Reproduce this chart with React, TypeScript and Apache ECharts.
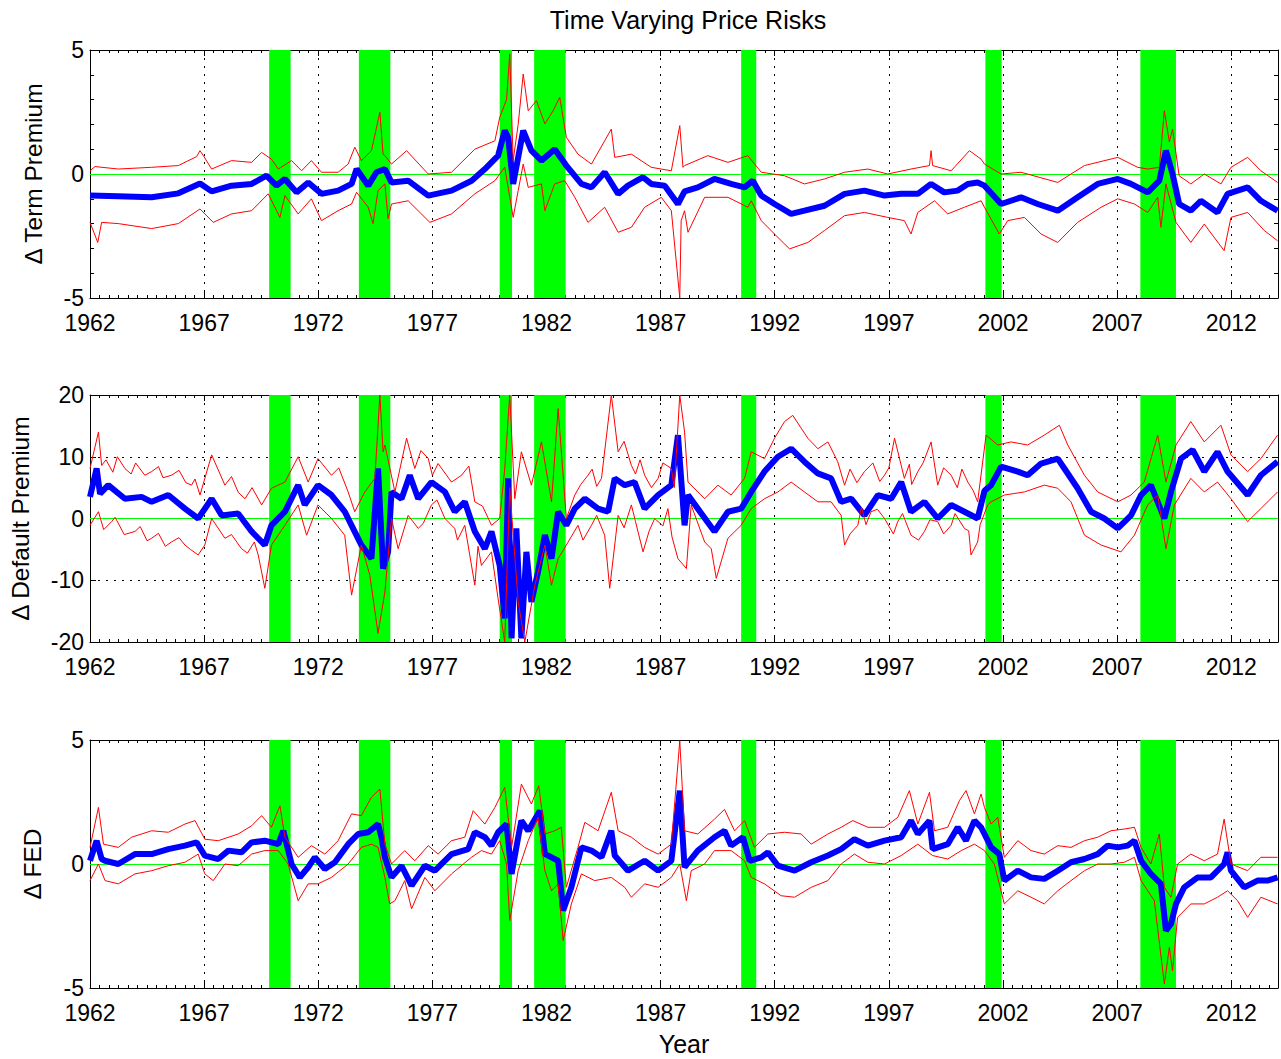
import React, { useEffect, useRef } from 'react';
import * as echarts from 'echarts';

// ---------- data (years, values) ----------
const recessionStart = [1969.85, 1973.78, 1979.95, 1981.46, 1990.53, 2001.23, 2008.02];
const recessionEnd = [1970.79, 1975.16, 1980.49, 1982.84, 1991.19, 2001.94, 2009.58];

const termEst = [[1962.00,-0.87],[1963.24,-0.90],[1964.70,-0.94],[1965.87,-0.78],[1966.82,-0.38],[1967.33,-0.70],[1968.20,-0.47],[1969.08,-0.40],[1969.73,-0.07],[1970.17,-0.47],[1970.54,-0.20],[1971.05,-0.74],[1971.56,-0.34],[1972.14,-0.80],[1972.87,-0.67],[1973.46,-0.40],[1973.68,0.20],[1974.19,-0.47],[1974.55,0.07],[1974.92,0.20],[1975.21,-0.34],[1975.94,-0.27],[1976.82,-0.87],[1977.84,-0.67],[1978.72,-0.27],[1979.30,0.20],[1979.88,0.74],[1980.17,1.75],[1980.32,1.48],[1980.54,-0.40],[1980.98,1.75],[1981.34,0.94],[1981.78,0.54],[1982.36,1.00],[1982.87,0.34],[1983.53,-0.40],[1983.97,-0.54],[1984.55,0.07],[1985.14,-0.80],[1985.57,-0.47],[1986.23,-0.13],[1986.59,-0.40],[1987.18,-0.47],[1987.76,-1.21],[1988.05,-0.70],[1988.63,-0.54],[1989.36,-0.20],[1990.09,-0.40],[1990.68,-0.54],[1991.04,-0.27],[1991.41,-0.87],[1991.99,-1.21],[1992.72,-1.61],[1993.30,-1.48],[1994.18,-1.28],[1995.06,-0.80],[1995.93,-0.67],[1996.81,-0.87],[1997.54,-0.80],[1998.27,-0.80],[1998.85,-0.40],[1999.43,-0.74],[2000.02,-0.67],[2000.46,-0.40],[2000.89,-0.34],[2001.19,-0.47],[2001.92,-1.21],[2002.79,-0.94],[2003.52,-1.21],[2004.40,-1.48],[2005.27,-0.94],[2006.15,-0.40],[2007.03,-0.20],[2007.61,-0.40],[2008.34,-0.74],[2008.85,-0.27],[2009.14,0.94],[2009.43,0.00],[2009.72,-1.21],[2010.23,-1.48],[2010.67,-1.08],[2011.40,-1.55],[2011.84,-0.80],[2012.72,-0.54],[2013.30,-1.08],[2014.03,-1.48]];

const termHi = [[1962.00,0.13],[1962.22,0.30],[1963.24,0.20],[1964.70,0.27],[1965.87,0.34],[1966.67,0.70],[1966.82,0.94],[1966.96,0.75],[1967.33,0.20],[1968.20,0.54],[1969.08,0.47],[1969.52,0.87],[1969.95,0.60],[1970.25,0.20],[1970.83,0.54],[1971.27,0.13],[1971.70,0.54],[1972.14,0.07],[1972.87,0.07],[1973.31,0.40],[1973.60,1.08],[1973.89,0.54],[1974.33,0.94],[1974.70,2.49],[1974.84,0.80],[1974.92,0.74],[1975.21,0.40],[1975.87,0.94],[1976.82,0.00],[1977.84,0.07],[1978.86,1.00],[1979.74,1.34],[1979.95,2.28],[1980.25,3.00],[1980.39,4.84],[1980.54,0.54],[1980.76,2.00],[1980.98,4.03],[1981.20,2.55],[1981.56,2.96],[1981.93,2.02],[1982.29,2.55],[1982.58,3.09],[1982.87,1.48],[1983.38,0.80],[1983.97,0.40],[1984.55,1.34],[1984.84,1.81],[1984.99,0.67],[1985.72,0.80],[1986.59,0.27],[1987.47,0.13],[1987.84,1.95],[1987.98,0.27],[1988.05,0.34],[1989.07,0.74],[1989.95,0.47],[1990.82,0.74],[1991.41,0.07],[1992.43,-0.07],[1993.30,-0.40],[1994.18,-0.20],[1995.06,0.07],[1996.08,0.20],[1996.95,0.00],[1997.97,0.20],[1998.78,0.34],[1998.85,0.94],[1998.92,0.34],[1999.73,0.13],[2000.53,0.94],[2001.04,0.60],[2001.19,0.40],[2001.92,0.00],[2002.79,0.07],[2004.40,-0.34],[2005.57,0.34],[2007.03,0.67],[2007.90,0.27],[2008.34,0.20],[2008.85,0.27],[2009.07,2.55],[2009.29,1.30],[2009.43,1.81],[2009.72,-0.07],[2010.23,-0.40],[2010.82,0.00],[2011.55,-0.40],[2011.99,0.27],[2012.72,0.67],[2013.30,0.13],[2014.03,-0.34]];

const termLo = [[1962.00,-1.95],[1962.34,-2.76],[1962.51,-1.95],[1963.24,-2.00],[1964.70,-2.20],[1965.87,-2.00],[1966.82,-1.41],[1967.40,-1.95],[1968.20,-1.61],[1969.08,-1.48],[1969.81,-0.80],[1970.32,-1.75],[1970.54,-0.87],[1971.12,-1.61],[1971.70,-1.00],[1972.14,-1.88],[1972.87,-1.48],[1973.46,-1.21],[1973.68,-0.74],[1974.19,-1.34],[1974.40,-2.00],[1974.62,-0.67],[1974.92,-0.40],[1975.06,-1.80],[1975.21,-1.21],[1975.94,-1.08],[1976.89,-1.95],[1977.84,-1.61],[1978.86,-0.80],[1979.74,-0.27],[1980.17,0.27],[1980.54,-1.75],[1980.76,-0.67],[1980.98,0.40],[1981.20,-0.54],[1981.78,-0.40],[1981.93,-1.48],[1982.36,-0.40],[1982.80,-0.27],[1983.24,-0.94],[1983.82,-1.95],[1984.55,-1.34],[1985.14,-2.35],[1985.72,-2.15],[1986.30,-1.34],[1987.03,-0.94],[1987.47,-1.48],[1987.84,-5.00],[1987.90,-1.88],[1988.05,-1.48],[1988.20,-2.35],[1988.93,-0.94],[1989.95,-0.94],[1990.82,-1.34],[1990.97,-1.08],[1991.41,-1.88],[1991.99,-2.42],[1992.65,-3.02],[1993.45,-2.76],[1994.18,-2.28],[1995.06,-1.68],[1995.93,-1.55],[1996.95,-1.75],[1997.68,-1.88],[1997.97,-2.42],[1998.27,-1.55],[1999.00,-1.08],[1999.58,-1.61],[2000.31,-1.34],[2001.04,-1.08],[2001.19,-1.34],[2001.84,-2.42],[2002.21,-1.88],[2002.94,-1.75],[2003.67,-2.42],[2004.40,-2.76],[2005.27,-1.95],[2006.30,-1.34],[2007.03,-1.00],[2007.76,-1.21],[2008.34,-1.55],[2008.78,-0.94],[2008.92,-2.15],[2009.14,-0.40],[2009.58,-1.95],[2010.23,-2.76],[2010.82,-2.02],[2011.69,-3.09],[2011.99,-1.75],[2012.72,-1.55],[2013.45,-2.28],[2014.03,-2.69]];

const defEst = [[1962.00,3.5],[1962.29,8.1],[1962.44,4.0],[1962.80,5.4],[1963.53,3.2],[1964.26,3.5],[1964.70,2.7],[1965.43,3.8],[1966.16,1.6],[1966.74,0.0],[1967.33,3.2],[1967.77,0.5],[1968.49,0.8],[1969.08,-2.1],[1969.66,-4.3],[1969.95,-1.1],[1970.54,1.1],[1971.12,5.4],[1971.41,2.2],[1971.99,5.4],[1972.58,3.8],[1973.16,1.1],[1973.46,-1.1],[1973.89,-4.3],[1974.33,-6.5],[1974.62,8.1],[1974.84,-8.1],[1975.06,-5.4],[1975.21,4.3],[1975.65,3.2],[1976.01,7.0],[1976.38,3.2],[1976.96,5.9],[1977.55,4.3],[1977.98,1.1],[1978.42,2.7],[1978.86,-2.1],[1979.30,-4.9],[1979.59,-2.1],[1979.95,-7.6],[1980.17,-16.2],[1980.32,6.5],[1980.47,-19.4],[1980.68,-1.6],[1980.90,-19.4],[1981.12,-5.4],[1981.34,-13.5],[1981.63,-8.6],[1981.93,-2.7],[1982.22,-6.5],[1982.51,1.1],[1982.87,-1.1],[1983.24,1.6],[1983.68,3.2],[1984.26,1.6],[1984.70,1.1],[1984.99,6.5],[1985.43,5.4],[1985.86,5.9],[1986.30,1.6],[1986.89,3.8],[1987.47,5.4],[1987.76,13.5],[1988.05,-1.1],[1988.20,3.8],[1988.63,1.6],[1989.36,-2.1],[1989.95,1.1],[1990.53,1.6],[1990.97,4.3],[1991.55,7.6],[1992.14,10.0],[1992.72,11.3],[1993.30,9.2],[1993.89,7.3],[1994.47,6.5],[1994.91,2.7],[1995.35,3.2],[1995.93,0.5],[1996.52,3.8],[1997.10,3.2],[1997.54,5.9],[1997.97,1.1],[1998.56,2.7],[1999.14,0.0],[1999.73,2.2],[2000.31,1.1],[2000.89,0.0],[2001.19,4.5],[2001.48,5.4],[2001.92,8.4],[2002.65,7.6],[2003.08,7.0],[2003.67,8.9],[2004.40,9.7],[2004.69,8.1],[2005.27,4.9],[2005.86,1.1],[2006.44,0.0],[2007.03,-1.6],[2007.61,0.5],[2008.05,3.8],[2008.48,5.4],[2009.07,0.0],[2009.36,4.3],[2009.80,9.7],[2010.31,11.1],[2010.82,7.6],[2011.40,10.8],[2011.84,7.6],[2012.72,3.8],[2013.30,7.0],[2014.03,9.2]];

const defHi = [[1962.00,8.1],[1962.37,14.0],[1962.51,8.6],[1962.70,9.5],[1963.00,7.5],[1963.20,10.0],[1963.53,8.1],[1963.80,7.2],[1964.00,9.0],[1964.40,7.0],[1964.70,7.6],[1965.00,8.4],[1965.20,6.6],[1965.57,7.0],[1965.90,7.8],[1966.20,5.8],[1966.45,5.4],[1966.60,6.4],[1966.82,3.8],[1967.33,10.3],[1967.91,5.4],[1968.20,6.8],[1968.50,4.2],[1968.79,3.2],[1969.10,5.0],[1969.52,2.2],[1969.95,4.9],[1970.54,5.9],[1971.12,10.0],[1971.56,5.9],[1971.99,9.7],[1972.58,7.0],[1972.90,8.2],[1973.31,4.3],[1973.60,1.1],[1974.04,4.3],[1974.48,6.5],[1974.70,20.0],[1974.84,10.8],[1974.92,11.9],[1975.36,4.3],[1975.87,13.0],[1976.23,8.1],[1976.50,11.0],[1976.82,9.7],[1977.00,7.0],[1977.25,8.9],[1977.84,5.9],[1978.28,7.0],[1978.60,8.5],[1978.86,2.7],[1979.20,2.0],[1979.59,-1.1],[1979.95,0.0],[1980.17,8.0],[1980.39,20.0],[1980.61,3.2],[1980.90,10.8],[1981.34,5.4],[1981.78,12.4],[1982.22,2.7],[1982.51,17.8],[1982.87,0.0],[1983.24,3.8],[1983.50,5.5],[1983.82,7.0],[1984.00,8.0],[1984.20,5.2],[1984.41,6.5],[1984.84,20.0],[1985.14,10.8],[1985.40,12.5],[1985.72,8.6],[1985.90,7.2],[1986.10,9.5],[1986.30,7.0],[1986.60,5.0],[1986.89,6.5],[1987.10,9.0],[1987.47,8.1],[1987.60,5.0],[1987.84,20.0],[1988.05,14.0],[1988.20,5.9],[1988.93,3.2],[1989.51,5.4],[1990.09,3.8],[1990.68,6.5],[1990.97,10.8],[1991.55,9.7],[1991.99,13.0],[1992.43,15.7],[1992.79,16.7],[1993.45,13.0],[1993.89,11.3],[1994.33,12.4],[1994.76,9.2],[1995.06,5.4],[1995.30,8.0],[1995.60,5.8],[1995.93,7.6],[1996.30,9.0],[1996.60,6.0],[1996.81,7.0],[1997.00,8.2],[1997.25,13.0],[1997.68,6.5],[1997.90,8.8],[1998.00,5.5],[1998.27,7.6],[1998.50,9.0],[1998.85,12.4],[1999.14,5.4],[1999.40,8.2],[1999.73,7.0],[2000.00,5.0],[2000.20,8.0],[2000.46,5.9],[2000.70,4.5],[2000.89,2.7],[2001.26,13.5],[2001.77,11.9],[2002.35,12.4],[2003.08,11.9],[2003.81,13.5],[2004.47,15.1],[2004.84,11.9],[2005.57,7.0],[2006.15,4.3],[2007.03,2.7],[2007.61,3.8],[2008.19,5.9],[2008.78,13.5],[2009.14,5.9],[2009.58,11.9],[2010.23,15.7],[2010.82,12.4],[2011.55,15.1],[2011.99,10.3],[2012.72,7.6],[2013.30,9.7],[2014.03,13.5]];

const defLo = [[1962.00,-1.1],[1962.37,1.1],[1962.60,-1.8],[1962.95,-0.5],[1963.10,0.2],[1963.50,-2.6],[1963.97,-2.1],[1964.20,-1.3],[1964.50,-3.6],[1964.70,-3.2],[1965.00,-2.4],[1965.30,-4.5],[1965.57,-3.8],[1965.90,-3.1],[1966.16,-4.3],[1966.40,-5.0],[1966.74,-5.9],[1967.03,-4.3],[1967.33,0.0],[1967.91,-3.2],[1968.20,-2.6],[1968.64,-4.9],[1968.90,-5.6],[1969.20,-3.8],[1969.37,-5.9],[1969.66,-11.3],[1969.95,-4.3],[1970.54,-1.1],[1971.12,2.2],[1971.49,-2.7],[1971.99,2.2],[1972.58,0.0],[1973.16,-2.7],[1973.46,-12.4],[1973.89,-4.3],[1974.26,-9.2],[1974.62,-18.6],[1974.92,-11.9],[1975.21,0.0],[1975.50,-4.9],[1975.94,0.5],[1976.38,-1.6],[1976.60,-0.8],[1976.96,2.2],[1977.20,3.0],[1977.55,0.0],[1977.98,-1.6],[1978.10,-3.5],[1978.42,-1.1],[1978.86,-10.8],[1979.00,-4.5],[1979.15,-7.6],[1979.59,-5.4],[1979.88,-13.0],[1980.17,-20.0],[1980.39,5.0],[1980.76,-13.5],[1981.05,-20.0],[1981.49,-10.8],[1981.93,-4.3],[1982.22,-10.8],[1982.51,-6.5],[1982.87,-4.3],[1983.38,-1.1],[1983.60,-3.5],[1983.97,-1.1],[1984.20,0.5],[1984.55,-2.7],[1984.77,-11.3],[1985.14,0.5],[1985.40,-1.5],[1985.72,2.2],[1985.90,-0.5],[1986.23,-5.4],[1986.50,-2.0],[1986.74,0.0],[1987.10,-1.2],[1987.32,1.6],[1987.50,-3.0],[1987.76,-6.5],[1988.13,-8.1],[1988.34,2.2],[1988.93,-3.8],[1989.22,-4.9],[1989.44,-9.7],[1989.95,-3.2],[1990.53,-1.1],[1990.97,1.6],[1991.55,3.2],[1992.14,4.3],[1992.72,5.9],[1993.30,4.3],[1993.89,2.7],[1994.47,2.7],[1994.91,0.5],[1995.06,-4.3],[1995.30,-2.5],[1995.64,-1.1],[1995.80,1.8],[1996.00,-1.0],[1996.22,1.1],[1996.50,1.5],[1996.81,0.0],[1997.20,-2.5],[1997.39,-0.5],[1997.60,0.8],[1997.97,-2.7],[1998.30,-3.5],[1998.56,-2.1],[1998.80,-0.2],[1999.14,-0.5],[1999.40,-2.5],[1999.73,-1.1],[1999.90,0.8],[2000.31,-1.6],[2000.50,-2.0],[2000.60,-5.9],[2000.89,-3.8],[2001.00,-1.0],[2001.33,2.2],[2001.48,2.7],[2002.06,3.8],[2002.94,4.3],[2003.81,5.4],[2004.40,4.9],[2004.98,2.7],[2005.57,-2.7],[2006.30,-4.3],[2007.17,-5.4],[2007.76,-2.7],[2008.34,2.2],[2008.78,3.8],[2009.14,-4.9],[2009.51,2.2],[2010.23,6.5],[2010.82,4.3],[2011.40,5.9],[2011.99,3.2],[2012.72,-0.5],[2013.30,1.6],[2014.03,4.3]];

const fedEst = [[1962.00,0.13],[1962.29,0.94],[1962.51,0.20],[1962.66,0.13],[1963.24,0.00],[1963.97,0.40],[1964.70,0.40],[1965.43,0.60],[1966.16,0.74],[1966.67,0.87],[1967.03,0.34],[1967.62,0.20],[1968.06,0.54],[1968.64,0.47],[1969.08,0.87],[1969.66,0.94],[1970.25,0.80],[1970.47,1.34],[1970.83,0.00],[1971.19,-0.54],[1971.56,-0.13],[1971.85,0.27],[1972.29,-0.20],[1972.73,0.07],[1973.31,0.80],[1973.75,1.21],[1974.19,1.28],[1974.62,1.61],[1974.77,1.08],[1974.92,0.27],[1975.21,-0.54],[1975.65,-0.07],[1976.09,-0.87],[1976.67,-0.07],[1977.11,-0.27],[1977.84,0.40],[1978.57,0.60],[1978.86,1.28],[1979.30,1.08],[1979.59,0.74],[1979.88,1.28],[1980.25,1.61],[1980.47,-0.40],[1980.76,1.08],[1980.90,1.75],[1981.20,1.34],[1981.71,2.15],[1981.93,0.40],[1982.22,0.27],[1982.51,0.13],[1982.73,-1.88],[1983.09,-0.94],[1983.53,0.67],[1983.97,0.54],[1984.41,0.27],[1984.84,1.34],[1984.99,0.34],[1985.57,-0.27],[1986.30,0.13],[1986.89,-0.27],[1987.47,0.13],[1987.84,2.96],[1988.05,-0.13],[1988.63,0.54],[1989.36,1.08],[1989.80,1.34],[1990.09,0.74],[1990.61,1.08],[1990.90,0.13],[1991.41,0.27],[1991.70,0.47],[1992.14,-0.07],[1992.87,-0.27],[1993.60,0.07],[1994.33,0.34],[1994.91,0.60],[1995.49,1.00],[1996.08,0.74],[1996.81,0.94],[1997.54,1.08],[1997.97,1.75],[1998.27,1.21],[1998.78,1.75],[1998.92,0.60],[1999.58,0.80],[2000.02,1.48],[2000.38,0.94],[2000.75,1.75],[2001.04,1.48],[2001.19,1.21],[2001.48,0.67],[2001.84,0.40],[2002.06,-0.67],[2002.65,-0.27],[2003.23,-0.54],[2003.81,-0.60],[2004.40,-0.27],[2004.98,0.07],[2005.57,0.20],[2006.15,0.40],[2006.59,0.74],[2007.03,0.67],[2007.46,0.74],[2007.76,0.94],[2008.05,0.13],[2008.48,-0.40],[2008.92,-0.80],[2009.14,-2.69],[2009.36,-2.42],[2009.58,-1.61],[2009.94,-0.94],[2010.53,-0.54],[2011.11,-0.54],[2011.69,0.00],[2011.84,0.47],[2011.99,-0.27],[2012.57,-0.94],[2013.15,-0.67],[2013.59,-0.67],[2014.03,-0.54]];

const fedHi = [[1962.00,0.67],[1962.37,2.28],[1962.59,0.80],[1963.24,0.67],[1963.82,1.08],[1964.70,1.34],[1965.43,1.28],[1966.16,1.61],[1966.60,1.75],[1967.03,1.00],[1967.62,0.94],[1968.49,1.21],[1969.08,1.54],[1969.52,1.95],[1969.95,1.48],[1970.32,2.35],[1970.54,1.08],[1971.12,0.27],[1971.70,0.74],[1972.29,0.40],[1972.87,0.94],[1973.46,2.02],[1973.89,1.95],[1974.33,2.69],[1974.70,3.02],[1974.92,0.80],[1975.21,0.00],[1975.79,0.54],[1976.23,0.13],[1976.82,0.74],[1977.25,0.40],[1977.84,0.94],[1978.42,1.08],[1978.79,2.15],[1979.30,1.61],[1979.74,2.28],[1980.17,3.09],[1980.47,0.67],[1980.90,3.22],[1981.34,2.42],[1981.66,3.16],[1981.93,1.21],[1982.36,1.34],[1982.65,1.48],[1982.87,-0.94],[1983.38,0.67],[1983.68,1.68],[1984.26,1.34],[1984.84,2.89],[1985.14,1.34],[1985.72,1.08],[1986.30,0.67],[1986.89,0.40],[1987.47,0.80],[1987.84,4.97],[1988.05,1.34],[1988.63,1.21],[1989.36,1.81],[1989.80,2.20],[1990.24,1.34],[1990.68,1.75],[1991.11,0.67],[1991.70,1.21],[1992.43,1.28],[1993.16,1.21],[1993.60,0.80],[1994.33,1.21],[1994.91,1.48],[1995.42,1.75],[1996.08,1.48],[1996.81,1.48],[1997.39,1.88],[1997.90,2.96],[1998.27,1.61],[1998.78,2.89],[1999.00,1.34],[1999.58,1.48],[2000.09,2.55],[2000.38,2.96],[2000.75,2.02],[2001.04,2.82],[2001.19,2.28],[2001.48,1.61],[2001.77,1.88],[2002.06,0.27],[2002.65,0.94],[2003.23,0.54],[2003.81,0.40],[2004.40,0.74],[2004.98,0.67],[2005.57,0.94],[2006.15,1.08],[2006.73,1.34],[2007.32,1.41],[2007.76,1.48],[2008.05,0.67],[2008.48,0.00],[2008.85,1.21],[2009.07,-0.94],[2009.36,-1.34],[2009.65,0.00],[2010.23,0.40],[2010.82,0.13],[2011.40,0.40],[2011.69,1.81],[2011.99,0.00],[2012.72,-0.27],[2013.30,0.27],[2014.03,0.27]];

const fedLo = [[1962.00,-0.67],[1962.37,0.00],[1962.66,-0.67],[1963.24,-0.80],[1963.97,-0.40],[1964.70,-0.27],[1965.43,-0.07],[1966.16,0.07],[1966.74,0.40],[1967.03,-0.40],[1967.40,-0.67],[1967.91,0.00],[1968.49,-0.07],[1969.08,0.40],[1969.66,0.54],[1970.25,0.54],[1970.68,0.00],[1971.12,-1.48],[1971.56,-0.80],[1971.99,-0.80],[1972.58,-0.54],[1973.31,0.00],[1973.89,0.67],[1974.33,0.80],[1974.62,0.67],[1974.92,-0.54],[1975.13,-1.61],[1975.36,-1.48],[1975.79,-0.67],[1976.09,-1.81],[1976.67,-0.54],[1977.11,-1.08],[1977.84,-0.40],[1978.71,0.27],[1979.15,0.54],[1979.59,0.40],[1979.95,0.94],[1980.25,0.00],[1980.39,-2.28],[1980.76,-0.27],[1981.20,0.94],[1981.63,1.88],[1981.93,-0.27],[1982.22,-1.08],[1982.51,-0.80],[1982.73,-3.09],[1983.09,-1.61],[1983.53,-0.40],[1984.11,-0.67],[1984.84,-0.54],[1985.43,-0.94],[1985.72,-1.34],[1986.30,-0.80],[1986.89,-0.94],[1987.47,-0.54],[1987.84,0.00],[1988.13,-1.48],[1988.34,-0.27],[1988.93,0.00],[1989.36,0.54],[1990.09,0.54],[1990.68,0.13],[1990.97,-0.54],[1991.55,-0.80],[1992.28,-1.28],[1992.87,-1.34],[1993.60,-0.94],[1994.33,-0.67],[1994.91,0.00],[1995.49,0.40],[1996.08,0.07],[1996.81,0.00],[1997.54,0.34],[1998.27,0.80],[1998.92,0.34],[1999.58,0.20],[2000.17,0.54],[2000.75,0.80],[2001.19,0.54],[2001.62,0.00],[2002.06,-1.61],[2002.65,-1.08],[2003.23,-1.34],[2003.81,-1.61],[2004.40,-1.08],[2004.98,-0.67],[2005.57,-0.27],[2006.15,0.00],[2006.73,0.00],[2007.32,0.07],[2007.76,0.27],[2008.05,-0.67],[2008.63,-1.48],[2009.07,-4.84],[2009.29,-3.36],[2009.43,-4.30],[2009.65,-2.15],[2010.23,-1.61],[2010.82,-1.61],[2011.40,-1.34],[2011.84,-1.08],[2012.28,-1.48],[2012.72,-2.15],[2013.30,-1.34],[2014.03,-1.61]];

const yearMin = 1962;
const yearMax = 2014.05;
const yearStep = 5;
const panelNames = ['Δ Term Premium', 'Δ Default Premium', 'Δ FED'];
const yMins = [-5, -20, -5];
const yMaxs = [5, 20, 5];
const ySteps = [5, 10, 5];
const chartTitle = 'Time Varying Price Risks';
const xName = 'Year';

// ---------- layout / style ----------
const FONT = "'Liberation Sans', Arial, Helvetica, sans-serif";
const gridTops = [50, 395, 740];
const gridHeights = [248, 247, 248];
const nameGaps = [44, 57, 45];

const byYear = (arr: number[][]) => arr.slice().sort((a, b) => a[0] - b[0]);

function buildOption() {
  const est = [termEst, defEst, fedEst];
  const hi = [termHi, defHi, fedHi];
  const lo = [termLo, defLo, fedLo];
  const grid: any[] = [];
  const xAxis: any[] = [];
  const yAxis: any[] = [];
  const series: any[] = [];
  const recessionAreas = recessionStart.map((s, k) => [{ xAxis: s }, { xAxis: recessionEnd[k] }]);

  for (let i = 0; i < 3; i++) {
    grid.push({ left: 90, width: 1189, top: gridTops[i], height: gridHeights[i], containLabel: false });
  }
  const baseX = (i: number, pos: string) => ({
    type: 'value', gridIndex: i, position: pos, min: yearMin, max: yearMax, interval: yearStep,
    axisLine: { show: true, onZero: false, lineStyle: { color: '#000', width: 1 } },
    axisTick: { show: true, inside: true, length: 6, lineStyle: { color: '#000' } },
    minorTick: { show: true, splitNumber: 12, length: 3, lineStyle: { color: '#000' } },
  });
  for (let i = 0; i < 3; i++) {
    xAxis.push({
      ...baseX(i, 'bottom'),
      name: i === 2 ? xName : '',
      nameLocation: 'middle', nameGap: 43,
      nameTextStyle: { fontSize: 25, color: '#000', fontFamily: FONT },
      axisLabel: {
        show: true, margin: 13, fontSize: 23, color: '#000', fontFamily: FONT,
        formatter: (v: number) => (Math.abs((v - yearMin) % yearStep) < 1e-6 ? String(Math.round(v)) : ''),
      },
      splitLine: { show: true, lineStyle: { color: '#000', type: [2, 6], width: 1 } },
    });
  }
  for (let i = 0; i < 3; i++) {
    xAxis.push({ ...baseX(i, 'top'), axisLabel: { show: false }, splitLine: { show: false } });
  }
  const baseY = (i: number, pos: string) => ({
    type: 'value', gridIndex: i, position: pos, min: yMins[i], max: yMaxs[i], interval: ySteps[i],
    axisLine: { show: true, onZero: false, lineStyle: { color: '#000', width: 1 } },
    axisTick: { show: true, inside: true, length: 6, lineStyle: { color: '#000' } },
    minorTick: { show: i === 0, splitNumber: 5, length: 4, lineStyle: { color: '#000' } },
  });
  for (let i = 0; i < 3; i++) {
    yAxis.push({
      ...baseY(i, 'left'),
      name: panelNames[i], nameLocation: 'middle', nameGap: nameGaps[i], nameRotate: 90,
      nameTextStyle: { fontSize: 24.5, color: '#000', fontFamily: FONT },
      axisLabel: { show: true, margin: 6, fontSize: 23, color: '#000', fontFamily: FONT },
      splitLine: { show: true, lineStyle: { color: '#000', type: [2, 6], width: 1 } },
    });
  }
  for (let i = 0; i < 3; i++) {
    yAxis.push({ ...baseY(i, 'right'), axisLabel: { show: false }, splitLine: { show: false } });
  }

  for (let i = 0; i < 3; i++) {
    series.push({
      type: 'line', xAxisIndex: i, yAxisIndex: i, data: byYear(est[i]), showSymbol: false, symbol: 'none',
      lineStyle: { color: '#0000ff', width: 6 }, z: 3,
      markArea: { silent: true, z: 1, itemStyle: { color: '#00ff00', opacity: 1 }, data: recessionAreas },
      markLine: {
        silent: true, z: 1, symbol: ['none', 'none'], label: { show: false },
        lineStyle: { color: '#00ff00', type: 'solid', width: 1.2 }, data: [{ yAxis: 0 }],
      },
    });
    series.push({
      type: 'line', xAxisIndex: i, yAxisIndex: i, data: byYear(hi[i]), showSymbol: false, symbol: 'none',
      lineStyle: { color: '#ff0000', width: 1 }, z: 4,
    });
    series.push({
      type: 'line', xAxisIndex: i, yAxisIndex: i, data: byYear(lo[i]), showSymbol: false, symbol: 'none',
      lineStyle: { color: '#ff0000', width: 1 }, z: 4,
    });
  }

  return {
    animation: false,
    backgroundColor: '#ffffff',
    grid, xAxis, yAxis, series,
    graphic: [
      {
        type: 'text', x: 688, y: 20,
        style: { text: chartTitle, fontSize: 25, fontFamily: FONT, fill: '#000', align: 'center', verticalAlign: 'middle' },
      },
    ],
  };
}

export default function App() {
  const ref = useRef<HTMLDivElement>(null);
  useEffect(() => {
    if (!ref.current) return;
    const chart = echarts.init(ref.current, undefined, { renderer: 'svg' });
    chart.setOption(buildOption() as any);
    return () => chart.dispose();
  }, []);
  return (
    <div
      ref={ref}
      style={{ position: 'absolute', left: 0, top: 0, width: 1281, height: 1059, background: '#fff' }}
    />
  );
}
